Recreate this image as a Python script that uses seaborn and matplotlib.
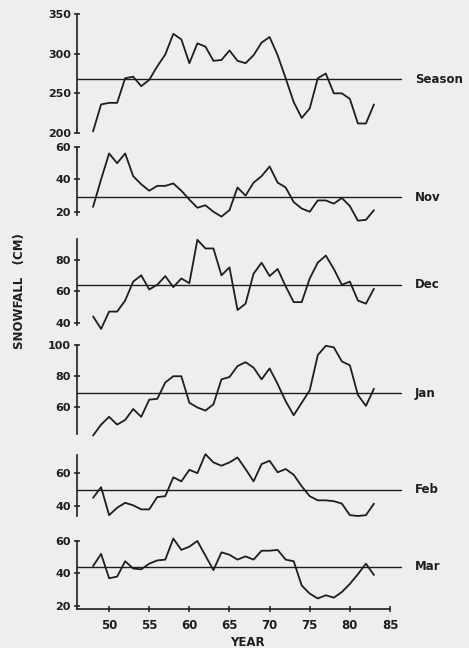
import matplotlib
matplotlib.use('Agg')
import matplotlib.pyplot as plt
import matplotlib.transforms as mtransforms
import seaborn as sns
import pandas as pd


years = list(range(48, 84))

season = [202, 236, 238, 238, 269, 271, 259, 267, 284, 299, 325, 318,
          288, 313, 309, 291, 292, 304, 291, 288, 298, 314, 321, 298,
          269, 239, 219, 231, 269, 275, 250, 250, 243, 212, 212, 236]
nov = [23, 40, 56, 50, 56, 42, 37, 33, 36, 36, 37.5, 33,
       27.5, 22.5, 24, 20, 17, 21, 35, 30, 38, 42, 48, 38,
       35, 26, 22, 20, 27, 27, 25, 28.5, 23.5, 14.5, 15, 21]
dec = [44, 36, 47, 47, 54, 66, 70, 61, 64, 69.5, 62.5, 68,
       65, 92.5, 87, 87, 70, 75, 48, 52, 71, 78, 69.5, 74,
       63, 53, 53, 68, 78, 82.5, 74, 64, 66, 54, 52, 61.5]
jan = [42, 49, 54, 49, 52, 59, 54, 65, 65.5, 76, 80, 80,
       63, 60, 58, 62, 78, 79.5, 86.5, 89, 85.5, 78, 85, 75,
       64, 55, 63, 71, 93.5, 99.5, 98.5, 89.5, 87, 68, 61, 72]
feb = [45, 51.5, 34.5, 39, 42, 40.5, 38, 38, 45.5, 46, 57.5, 55,
       62, 60, 71.5, 66.5, 64.5, 66.5, 69.5, 62.5, 55, 65.5, 67.5, 60.5,
       62.5, 59, 52, 46, 43.5, 43.5, 43, 41.5, 34.5, 34, 34.5, 41.5]
mar = [44.5, 52, 37, 38, 47.5, 43, 42.5, 46, 48, 48.5, 61.5, 54.5,
       56.5, 60, 51, 42, 53, 51.5, 48.5, 50.5, 48.5, 54, 54, 54.5,
       48.5, 47.5, 32.5, 27.5, 24.5, 26.5, 25, 28.5, 33.5, 39.5, 46, 39]

names = ['Season', 'Nov', 'Dec', 'Jan', 'Feb', 'Mar']
series = [season, nov, dec, jan, feb, mar]
means = [268, 29, 64, 69, 50, 44]
yticks = [[200, 250, 300, 350], [20, 40, 60], [40, 60, 80],
          [60, 80, 100], [40, 60], [20, 40, 60]]
ylims = [(200, 350), (18, 60), (38.5, 93), (43, 100), (34, 71), (18, 60)]
xticks = [50, 55, 60, 65, 70, 75, 80, 85]

# panel tops / bottoms in pixels (from the top of the 469x648 image)
W, H = 469, 648
left_px, right_px = 77, 390
tops = [14, 147, 239, 345, 455, 541]
bottoms = [133, 215, 325, 434, 516, 609]

sns.set_style('white')
plt.rcParams['font.family'] = ['DejaVu Sans']
ink = '#1e1e1e'
paper = '#eeeeec'

fig = plt.figure(figsize=(W / 100, H / 100), dpi=100, facecolor=paper)

for i, name in enumerate(names):
    rect = [left_px / W, 1 - bottoms[i] / H,
            (right_px - left_px) / W, (bottoms[i] - tops[i]) / H]
    ax = fig.add_axes(rect)
    ax.set_facecolor('none')
    df = pd.DataFrame({'year': years, 'value': series[i]})
    sns.lineplot(data=df, x='year', y='value', ax=ax, color=ink, lw=1.3)
    for ln in ax.lines:
        ln.set_clip_on(False)
    ax.axhline(means[i], xmin=0, xmax=1.035, color=ink, lw=1.0, clip_on=False)

    ax.set_xlim(46, 85)
    ax.set_ylim(*ylims[i])
    ax.set_yticks(yticks[i])
    ax.set_xlabel('')
    ax.set_ylabel('')
    for s in ['top', 'right']:
        ax.spines[s].set_visible(False)
    ax.spines['left'].set_color(ink)
    ax.spines['left'].set_linewidth(1.2)
    ax.tick_params(axis='y', left=True, direction='inout', length=5,
                   width=1.1, colors=ink, labelsize=8, pad=2)
    for lab in ax.get_yticklabels():
        lab.set_fontweight('bold')

    if i == len(names) - 1:
        ax.set_xticks(xticks)
        ax.spines['bottom'].set_color(ink)
        ax.spines['bottom'].set_linewidth(1.2)
        ax.tick_params(axis='x', bottom=True, direction='inout', length=5,
                       width=1.1, colors=ink, labelsize=8.5, pad=5)
        for lab in ax.get_xticklabels():
            lab.set_fontweight('bold')
        ax.set_xlabel('YEAR', fontsize=8.5, fontweight='bold', color=ink)
        ax.xaxis.set_label_coords(0.543, -0.40)
    else:
        ax.spines['bottom'].set_visible(False)
        ax.set_xticks([])

    trans = mtransforms.blended_transform_factory(ax.transAxes, ax.transData)
    ax.text(1.08, means[i], name, transform=trans, fontsize=8.5,
            fontweight='bold', color=ink, va='center', ha='left')

fig.text(20 / W, 1 - 291 / H, 'SNOWFALL   (CM)', rotation=90, fontsize=8.5,
         fontweight='bold', color=ink, ha='center', va='center')

fig.savefig('out.png', dpi=100, facecolor=paper)
